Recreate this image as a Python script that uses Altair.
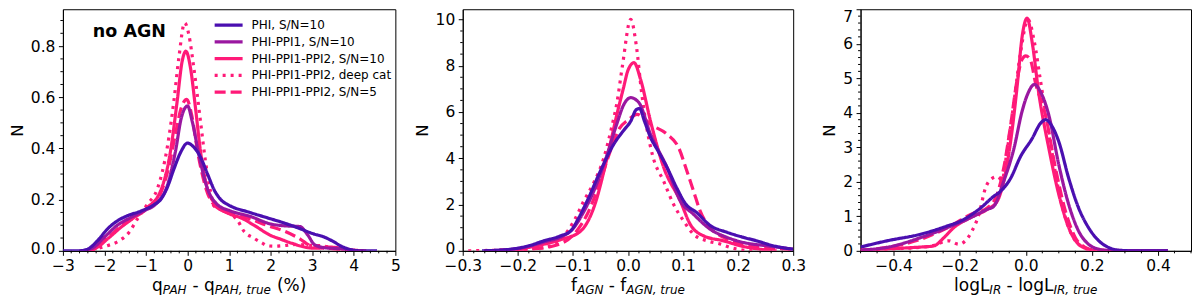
import altair as alt
import pandas as pd

FONT = "DejaVu Sans"

SERIES = ["PHI, S/N=10", "PHI-PPI1, S/N=10", "PHI-PPI1-PPI2, S/N=10",
          "PHI-PPI1-PPI2, deep cat", "PHI-PPI1-PPI2, S/N=5"]
COLORS = ["#4a0fb0", "#9a17a0", "#ff1a78", "#ff1a78", "#ff1a78"]
DASHES = [[1, 0], [1, 0], [1, 0], [3, 5], [11, 5]]
DRAW_ORDER = [4, 3, 2, 1, 0]

# ---------------- panel 1 : q_PAH ----------------
Q_PHI_X = [-3.0, -2.6, -2.4, -2.17, -1.93, -1.69, -1.45, -1.13, -0.81, -0.65, -0.49, -0.33, -0.17, 0.0, 0.15, 0.3, 0.48, 0.65, 0.8, 1.0, 1.5, 2.0, 2.3, 2.7, 3.0, 3.27, 3.5, 3.7, 3.98, 4.2, 4.56]
Q_PHI_Y = [0.0, 0.0, 0.007, 0.039, 0.085, 0.117, 0.137, 0.155, 0.18, 0.2, 0.247, 0.319, 0.384, 0.421, 0.405, 0.37, 0.3, 0.235, 0.2, 0.178, 0.15, 0.125, 0.11, 0.087, 0.068, 0.055, 0.037, 0.018, 0.003, 0.0, 0.0]
Q_PPI1_X = [-2.6, -2.33, -2.01, -1.69, -1.37, -1.05, -0.73, -0.49, -0.29, -0.15, 0.0, 0.11, 0.27, 0.47, 0.71, 1.03, 1.5, 2.0, 2.3, 2.7, 2.9, 3.05, 3.3, 3.7, 4.0]
Q_PPI1_Y = [0.0, 0.007, 0.052, 0.1, 0.13, 0.156, 0.189, 0.254, 0.39, 0.52, 0.566, 0.507, 0.377, 0.247, 0.182, 0.156, 0.135, 0.105, 0.098, 0.095, 0.06, 0.025, 0.012, 0.008, 0.0]
Q_PPI2_X = [-2.5, -2.25, -1.93, -1.61, -1.29, -0.97, -0.65, -0.41, -0.25, -0.13, -0.04, 0.07, 0.19, 0.31, 0.47, 0.71, 1.03, 1.27, 1.6, 2.0, 2.23, 2.5, 2.87, 3.1, 3.4, 3.7, 4.0, 4.3]
Q_PPI2_Y = [0.0, 0.007, 0.046, 0.091, 0.13, 0.169, 0.234, 0.39, 0.585, 0.741, 0.78, 0.715, 0.559, 0.39, 0.247, 0.176, 0.143, 0.13, 0.1, 0.06, 0.046, 0.03, 0.013, 0.01, 0.015, 0.01, 0.003, 0.0]
Q_DEEP_X = [-2.3, -2.1, -1.93, -1.65, -1.41, -1.21, -0.97, -0.73, -0.49, -0.33, -0.21, -0.07, 0.03, 0.15, 0.31, 0.43, 0.55, 0.63, 0.8, 1.0, 1.2, 1.35, 1.59, 1.8, 1.91, 2.1, 2.3, 2.6, 2.9, 3.2, 3.5, 3.8, 4.1]
Q_DEEP_Y = [0.0, 0.012, 0.02, 0.039, 0.072, 0.124, 0.182, 0.241, 0.403, 0.585, 0.754, 0.891, 0.845, 0.715, 0.507, 0.351, 0.234, 0.176, 0.16, 0.145, 0.12, 0.078, 0.05, 0.03, 0.02, 0.018, 0.02, 0.025, 0.022, 0.02, 0.012, 0.005, 0.0]
Q_SN5_X = [-2.5, -2.2, -1.93, -1.61, -1.29, -0.97, -0.65, -0.45, -0.3, -0.15, -0.02, 0.1, 0.25, 0.45, 0.7, 1.11, 1.51, 1.9, 2.31, 2.71, 2.95, 3.2, 3.5, 3.9, 4.2]
Q_SN5_Y = [0.0, 0.01, 0.05, 0.095, 0.13, 0.165, 0.225, 0.33, 0.45, 0.56, 0.592, 0.53, 0.38, 0.24, 0.17, 0.143, 0.124, 0.1, 0.078, 0.046, 0.02, 0.012, 0.008, 0.002, 0.0]

# ---------------- panel 2 : f_AGN ----------------
F_PHI_X = [-0.265, -0.213, -0.18, -0.153, -0.122, -0.104, -0.09, -0.074, -0.05, -0.026, -0.008, 0.005, 0.015, 0.021, 0.03, 0.041, 0.055, 0.071, 0.089, 0.104, 0.125, 0.149, 0.18, 0.21, 0.234, 0.264, 0.3]
F_PHI_Y = [0.0, 0.07, 0.22, 0.43, 0.65, 0.86, 1.4, 2.16, 3.45, 4.6, 5.2, 5.6, 6.1, 6.15, 5.6, 4.9, 4.3, 3.6, 2.7, 2.05, 1.65, 1.1, 0.8, 0.58, 0.43, 0.22, 0.07]
F_PPI1_X = [-0.26, -0.2, -0.15, -0.12, -0.1, -0.08, -0.06, -0.04, -0.02, -0.008, 0.005, 0.02, 0.041, 0.071, 0.095, 0.119, 0.149, 0.18, 0.21, 0.252, 0.3]
F_PPI1_Y = [0.0, 0.1, 0.4, 0.62, 0.95, 1.7, 2.7, 4.0, 5.5, 6.3, 6.62, 6.4, 5.04, 3.6, 2.16, 1.58, 0.94, 0.58, 0.36, 0.22, 0.07]
F_PPI2_X = [-0.25, -0.2, -0.15, -0.12, -0.086, -0.062, -0.038, -0.02, -0.008, 0.0, 0.011, 0.023, 0.041, 0.065, 0.095, 0.113, 0.137, 0.174, 0.204, 0.24, 0.27]
F_PPI2_Y = [0.0, 0.08, 0.3, 0.5, 0.85, 1.87, 4.0, 5.9, 7.05, 7.8, 8.13, 7.4, 5.6, 3.6, 2.16, 1.15, 0.65, 0.43, 0.22, 0.07, 0.0]
F_DEEP_X = [-0.29, -0.25, -0.2, -0.153, -0.122, -0.098, -0.08, -0.062, -0.044, -0.03, -0.02, -0.01, 0.005, 0.015, 0.025, 0.035, 0.045, 0.065, 0.083, 0.101, 0.119, 0.144, 0.168, 0.186, 0.204, 0.23]
F_DEEP_Y = [0.0, 0.02, 0.06, 0.14, 0.5, 1.29, 2.16, 2.95, 4.0, 5.3, 6.4, 8.0, 10.0, 8.9, 6.8, 5.2, 4.1, 3.0, 2.0, 1.29, 0.72, 0.43, 0.29, 0.14, 0.05, 0.0]
F_SN5_X = [-0.26, -0.18, -0.134, -0.098, -0.074, -0.05, -0.032, -0.015, 0.0, 0.0166, 0.03, 0.041, 0.071, 0.092, 0.107, 0.119, 0.131, 0.149, 0.174, 0.204, 0.252, 0.3]
F_SN5_Y = [0.0, 0.07, 0.22, 0.72, 1.58, 3.02, 4.32, 5.3, 5.65, 5.9, 5.7, 5.47, 5.04, 4.46, 3.45, 2.59, 1.73, 1.0, 0.58, 0.29, 0.14, 0.05]

# ---------------- panel 3 : log L_IR ----------------
L_PHI_X = [-0.5, -0.42, -0.319, -0.238, -0.198, -0.137, -0.097, -0.077, -0.046, -0.016, 0.019, 0.045, 0.06, 0.08, 0.1, 0.13, 0.16, 0.19, 0.221, 0.25, 0.28, 0.33, 0.43]
L_PHI_Y = [0.11, 0.29, 0.48, 0.72, 0.86, 1.24, 1.58, 1.72, 2.1, 2.73, 3.25, 3.7, 3.8, 3.6, 3.16, 2.1, 1.24, 0.67, 0.29, 0.1, 0.02, 0.0, 0.0]
L_PPI1_X = [-0.5, -0.42, -0.319, -0.238, -0.178, -0.117, -0.097, -0.067, -0.036, -0.011, 0.006, 0.026, 0.045, 0.07, 0.1, 0.13, 0.16, 0.19, 0.22, 0.26, 0.43]
L_PPI1_Y = [0.02, 0.1, 0.38, 0.67, 0.91, 1.2, 1.29, 2.01, 2.96, 4.05, 4.55, 4.82, 4.6, 3.92, 2.49, 1.34, 0.57, 0.19, 0.05, 0.0, 0.0]
L_PPI2_X = [-0.5, -0.37, -0.319, -0.279, -0.248, -0.218, -0.168, -0.117, -0.087, -0.067, -0.046, -0.026, -0.011, 0.004, 0.02, 0.039, 0.07, 0.1, 0.13, 0.16, 0.19, 0.22, 0.43]
L_PPI2_Y = [0.02, 0.08, 0.11, 0.14, 0.38, 0.67, 0.96, 1.2, 1.43, 2.01, 3.16, 4.78, 6.21, 6.74, 6.0, 4.59, 2.96, 1.63, 0.67, 0.19, 0.05, 0.0, 0.0]
L_DEEP_X = [-0.5, -0.42, -0.319, -0.285, -0.233, -0.203, -0.183, -0.163, -0.142, -0.122, -0.102, -0.085, -0.072, -0.057, -0.036, -0.016, 0.007, 0.025, 0.045, 0.075, 0.105, 0.135, 0.165, 0.2, 0.43]
L_DEEP_Y = [0.0, 0.05, 0.1, 0.14, 0.29, 0.19, 0.29, 0.57, 1.05, 1.82, 2.1, 2.15, 2.05, 2.87, 4.3, 5.74, 6.7, 6.1, 4.9, 3.1, 1.5, 0.55, 0.15, 0.02, 0.0]
L_SN5_X = [-0.5, -0.42, -0.319, -0.218, -0.168, -0.117, -0.087, -0.067, -0.046, -0.026, -0.011, 0.0, 0.015, 0.029, 0.06, 0.09, 0.12, 0.15, 0.18, 0.21, 0.43]
L_SN5_Y = [0.02, 0.1, 0.33, 0.77, 1.05, 1.24, 1.63, 2.39, 3.63, 4.97, 5.55, 5.65, 5.5, 4.88, 3.92, 2.39, 1.15, 0.38, 0.1, 0.02, 0.0]

# ---------------- axes ----------------
Q_XTICKS = [-3, -2, -1, 0, 1, 2, 3, 4, 5]
Q_YTICKS = [0.0, 0.2, 0.4, 0.6, 0.8]
F_XTICKS = [-0.3, -0.2, -0.1, 0.0, 0.1, 0.2, 0.3]
F_YTICKS = [0, 2, 4, 6, 8, 10]
L_XTICKS = [-0.4, -0.2, 0.0, 0.2, 0.4]
L_YTICKS = [0, 1, 2, 3, 4, 5, 6, 7]

Q_XMINOR = [round(-3 + 0.2 * i, 2) for i in range(41) if i % 5]
Q_YMINOR = [round(0.05 * i, 2) for i in range(19) if i % 4]
F_XMINOR = [round(-0.3 + 0.02 * i, 3) for i in range(31) if i % 5]
F_YMINOR = [round(0.5 * i, 1) for i in range(21) if i % 4]
L_XMINOR = [round(-0.5 + 0.05 * i, 3) for i in range(21) if (i - 2) % 4]
L_YMINOR = [round(0.2 * i, 1) for i in range(36) if i % 5]

WIDTHS = [333, 331, 331]
H = 242

CHAR_W = {" ": 651, "%": 1946, "(": 799, ")": 799, ",": 651, "-": 739,
          "A": 1401, "G": 1577, "H": 1540, "I": 604, "L": 1141, "N": 1532,
          "P": 1235, "R": 1423, "e": 1260, "f": 721, "g": 1300, "l": 569,
          "o": 1253, "q": 1300, "r": 842, "t": 803, "u": 1298}
MAIN, SUB, SUB_DROP, BASE = 17, 12, 2.6, 40.7


def text_width(s, size):
    return sum(CHAR_W[c] for c in s) / 2048 * size


def title_layers(parts, width):
    total = sum(text_width(t, SUB if sub else MAIN) for t, sub in parts)
    x = width / 2 - total / 2
    layers = []
    for t, sub in parts:
        size = SUB if sub else MAIN
        stripped = t.lstrip(" ")
        lead = text_width(t[: len(t) - len(stripped)], size)
        layers.append(
            alt.Chart(pd.DataFrame({"t": [stripped]}))
            .mark_text(align="left", baseline="alphabetic", font=FONT, fontSize=size,
                       fontStyle="italic" if sub else "normal", color="black")
            .encode(text="t:N", x=alt.value(x + lead),
                    y=alt.value(H + BASE + (SUB_DROP if sub else 0)))
        )
        x += text_width(t, size)
    return layers


def frame(curves):
    rows = []
    for idx in DRAW_ORDER:
        xs, ys = curves[idx]
        for a, b in zip(xs, ys):
            rows.append({"series": SERIES[idx], "x": a, "y": b})
    return pd.DataFrame(rows)


def panel(curves, width, xdom, ydom, xt, yt, xminor, yminor, xfmt, yfmt,
          title_parts, legend, extras=(), ylabel_baseline=None, zero_lift=False):
    df = frame(curves)
    xs = alt.Scale(domain=xdom, nice=False, zero=False)
    ys = alt.Scale(domain=ydom, nice=False, zero=False)
    yax = dict(values=yt, format=yfmt, title="N", titleFontSize=16.5, titlePadding=5)
    if ylabel_baseline is not None:
        yax["labelBaseline"] = ylabel_baseline
    if zero_lift:
        yax["labelOffset"] = {"condition": {"test": "datum.value == 0", "value": -2}, "value": 0}
    xaxis = alt.Axis(values=xt, format=xfmt, title=None, labelFlush=False, labelOverlap=False)
    yaxis = alt.Axis(**yax)
    lines = alt.Chart(df).mark_line(
        strokeWidth=3.2, interpolate="monotone", clip=True, strokeCap="butt", strokeJoin="round"
    ).encode(
        x=alt.X("x:Q", scale=xs, axis=xaxis),
        y=alt.Y("y:Q", scale=ys, axis=yaxis),
        color=alt.Color("series:N", scale=alt.Scale(domain=SERIES, range=COLORS), legend=legend),
        strokeDash=alt.StrokeDash("series:N", scale=alt.Scale(domain=SERIES, range=DASHES), legend=legend),
    )
    xm = alt.Chart(pd.DataFrame({"x": xminor})).mark_rule(color="black", strokeWidth=1).encode(
        x=alt.X("x:Q", scale=xs, axis=xaxis), y=alt.value(H), y2=alt.value(H + 2.5))
    ym = alt.Chart(pd.DataFrame({"y": yminor})).mark_rule(color="black", strokeWidth=1).encode(
        y=alt.Y("y:Q", scale=ys, axis=yaxis), x=alt.value(0), x2=alt.value(-2.5))
    return alt.layer(lines, xm, ym, *title_layers(title_parts, width), *extras).properties(
        width=width, height=H)


legend1 = alt.Legend(orient="none", legendX=150, legendY=8, title=None, symbolType="stroke",
                     symbolSize=784, symbolStrokeWidth=3.2, labelFont=FONT, labelFontSize=12,
                     labelColor="black", labelOffset=7, rowPadding=0.75, clipHeight=16,
                     padding=0, labelLimit=300)

no_agn = alt.Chart(pd.DataFrame({"t": ["no AGN"]})).mark_text(
    align="left", baseline="alphabetic", font=FONT, fontSize=17.5, fontWeight="bold", color="black"
).encode(text="t:N", x=alt.value(30), y=alt.value(28))

p1 = panel([(Q_PHI_X, Q_PHI_Y), (Q_PPI1_X, Q_PPI1_Y), (Q_PPI2_X, Q_PPI2_Y),
            (Q_DEEP_X, Q_DEEP_Y), (Q_SN5_X, Q_SN5_Y)],
           WIDTHS[0], [-3, 5], [0, 0.944], Q_XTICKS, Q_YTICKS, Q_XMINOR, Q_YMINOR, "d", ".1f",
           [("q", False), ("PAH", True), (" - q", False), ("PAH, true", True), (" (%)", False)],
           legend1, extras=[no_agn], zero_lift=True)
p2 = panel([(F_PHI_X, F_PHI_Y), (F_PPI1_X, F_PPI1_Y), (F_PPI2_X, F_PPI2_Y),
            (F_DEEP_X, F_DEEP_Y), (F_SN5_X, F_SN5_Y)],
           WIDTHS[1], [-0.3, 0.3], [0, 10.44], F_XTICKS, F_YTICKS, F_XMINOR, F_YMINOR, ".1f", "d",
           [("f", False), ("AGN", True), (" - f", False), ("AGN, true", True)], None,
           zero_lift=True)
p3 = panel([(L_PHI_X, L_PHI_Y), (L_PPI1_X, L_PPI1_Y), (L_PPI2_X, L_PPI2_Y),
            (L_DEEP_X, L_DEEP_Y), (L_SN5_X, L_SN5_Y)],
           WIDTHS[2], [-0.5, 0.5], [0, 7], L_XTICKS, L_YTICKS, L_XMINOR, L_YMINOR, ".1f", "d",
           [("logL", False), ("IR", True), (" - logL", False), ("IR, true", True)], None,
           ylabel_baseline={"condition": {"test": "datum.value >= 7", "value": "top"}, "value": "middle"})

chart = alt.hconcat(p1, p2, p3, spacing=67.5, bounds="flush").resolve_scale(
    color="independent", strokeDash="independent", x="independent", y="independent"
).configure_view(stroke="black", strokeWidth=1).configure_axis(
    grid=False, domainColor="black", domainWidth=1, tickColor="black", tickSize=4.5, tickWidth=1,
    labelFont=FONT, labelFontSize=15.5, labelColor="black", labelPadding=3.5,
    titleFont=FONT, titleColor="black", titleFontWeight="normal"
).properties(padding={"left": 0, "top": 0, "right": 0, "bottom": 0}, background="white")

chart.save("out.html", embed_options={"renderer": "svg", "actions": False})
